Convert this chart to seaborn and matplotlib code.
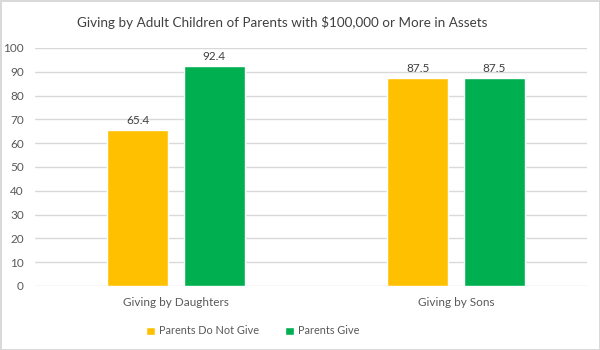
import seaborn as sns
import pandas as pd
from matplotlib import pyplot as plt

# chart values
groups = ["Giving by Daughters", "Giving by Daughters", "Giving by Sons", "Giving by Sons"]
parents = ["Parents Do Not Give", "Parents Give", "Parents Do Not Give", "Parents Give"]
values = [65.4, 92.4, 87.5, 87.5]
colors = ["#FFC000", "#00B050"]

df = pd.DataFrame({"group": groups, "parents": parents, "value": values})

sns.set_style("white")
plt.rcParams["font.family"] = ["Lato", "DejaVu Sans"]

fig = plt.figure(figsize=(6, 3.5), dpi=100)
fig.patch.set_edgecolor("#D9D9D9")
fig.patch.set_linewidth(2)
ax = fig.add_axes([0.058, 0.183, 0.92, 0.68])

sns.barplot(data=df, x="group", y="value", hue="parents", palette=colors,
            width=0.546, gap=0.2, ax=ax, legend=True, saturation=1)

for c in ax.containers:
    ax.bar_label(c, fmt="%.1f", padding=3, fontsize=8.5, color="#404040")

ax.set_xlim(-0.504, 1.467)
ax.set_ylim(0, 100)
ax.set_yticks(range(0, 101, 10))
ax.yaxis.grid(True, color="#D9D9D9", linewidth=1)
ax.set_axisbelow(True)
for s in ax.spines.values():
    s.set_visible(False)
ax.tick_params(axis="both", length=0, labelsize=8.5, labelcolor="#595959", pad=8)
ax.set_xlabel("")
ax.set_ylabel("")

ax.legend(loc="upper center", bbox_to_anchor=(0.395, -0.125), ncol=2, frameon=False,
          fontsize=7.8, handlelength=0.8, handleheight=0.8, columnspacing=2.4,
          handletextpad=0.4, labelcolor="#595959")

fig.text(0.47, 0.937, "Giving by Adult Children of Parents with $100,000 or More in Assets",
         ha="center", va="center", fontsize=9.7, color="#404040")

plt.savefig("out.png", dpi=100, edgecolor=fig.get_edgecolor())
